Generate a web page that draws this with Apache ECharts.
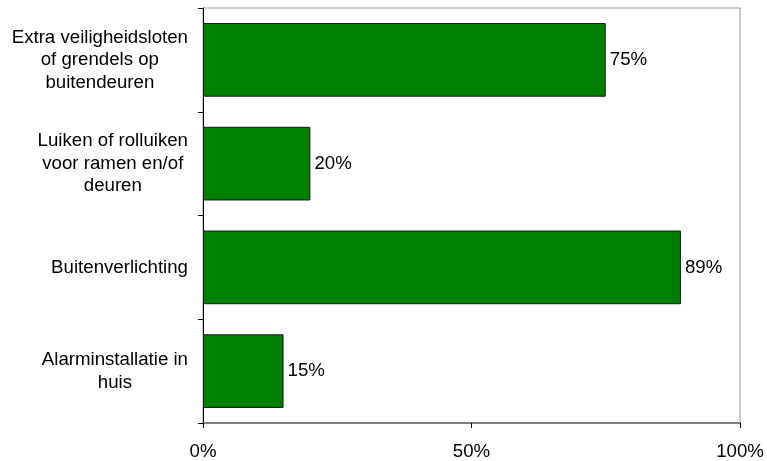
<!DOCTYPE html>
<html>
<head>
<meta charset="utf-8">
<script src="https://cdn.jsdelivr.net/npm/echarts@6/dist/echarts.min.js"></script>
<style>html,body{margin:0;padding:0;background:#fff;}#c{width:767px;height:461px;}</style>
</head>
<body>
<div id="c"></div>
<script>
const categories = [
  "Extra veiligheidsloten\nof grendels op\nbuitendeuren",
  "Luiken of rolluiken\nvoor ramen en/of\ndeuren",
  "Buitenverlichting",
  "Alarminstallatie in\nhuis"
];
const values = [75, 20, 89, 15];
const xTicks = [0, 50, 100];

const FONT = 'Liberation Sans, Arial, sans-serif';
const FS = 18.67;
const chart = echarts.init(document.getElementById('c'), null, {renderer: 'canvas'});
chart.setOption({
  animation: false,
  backgroundColor: '#fff',
  grid: {left: 203, right: 27, top: 8, bottom: 35, show: true, borderColor: '#999', borderWidth: 1, backgroundColor: 'transparent'},
  xAxis: {
    type: 'value', min: 0, max: 100, interval: 50,
    axisLine: {show: true, lineStyle: {color: '#808080', width: 2}},
    axisTick: {show: true, length: 5, lineStyle: {color: '#000'}},
    splitLine: {show: false},
    axisLabel: {margin: 19, color: '#000', fontFamily: FONT, fontSize: FS,
      formatter: v => xTicks.includes(v) ? v + '%' : ''}
  },
  yAxis: {
    type: 'category', data: categories, inverse: true,
    axisLine: {show: true, lineStyle: {color: '#000', width: 1}},
    axisTick: {show: true, length: 5, inside: false, alignWithLabel: false, lineStyle: {color: '#000'}},
    axisLabel: {
      margin: 15, align: 'right', color: '#000', fontFamily: FONT, fontSize: FS, lineHeight: 22.5,
      formatter: v => v.split('\n').map(l => '{c|' + l + '}').join('\n'),
      rich: {c: {align: 'center', color: '#000', fontFamily: FONT, fontSize: FS, lineHeight: 22.5}}
    }
  },
  series: [{
    type: 'bar', data: values, barCategoryGap: '29%',
    itemStyle: {color: '#008000', borderColor: '#1a1a1a', borderWidth: 1},
    label: {show: true, position: 'right', distance: 4, color: '#000', fontFamily: FONT, fontSize: FS, formatter: p => p.value + '%'}
  }]
});
</script>
</body>
</html>
